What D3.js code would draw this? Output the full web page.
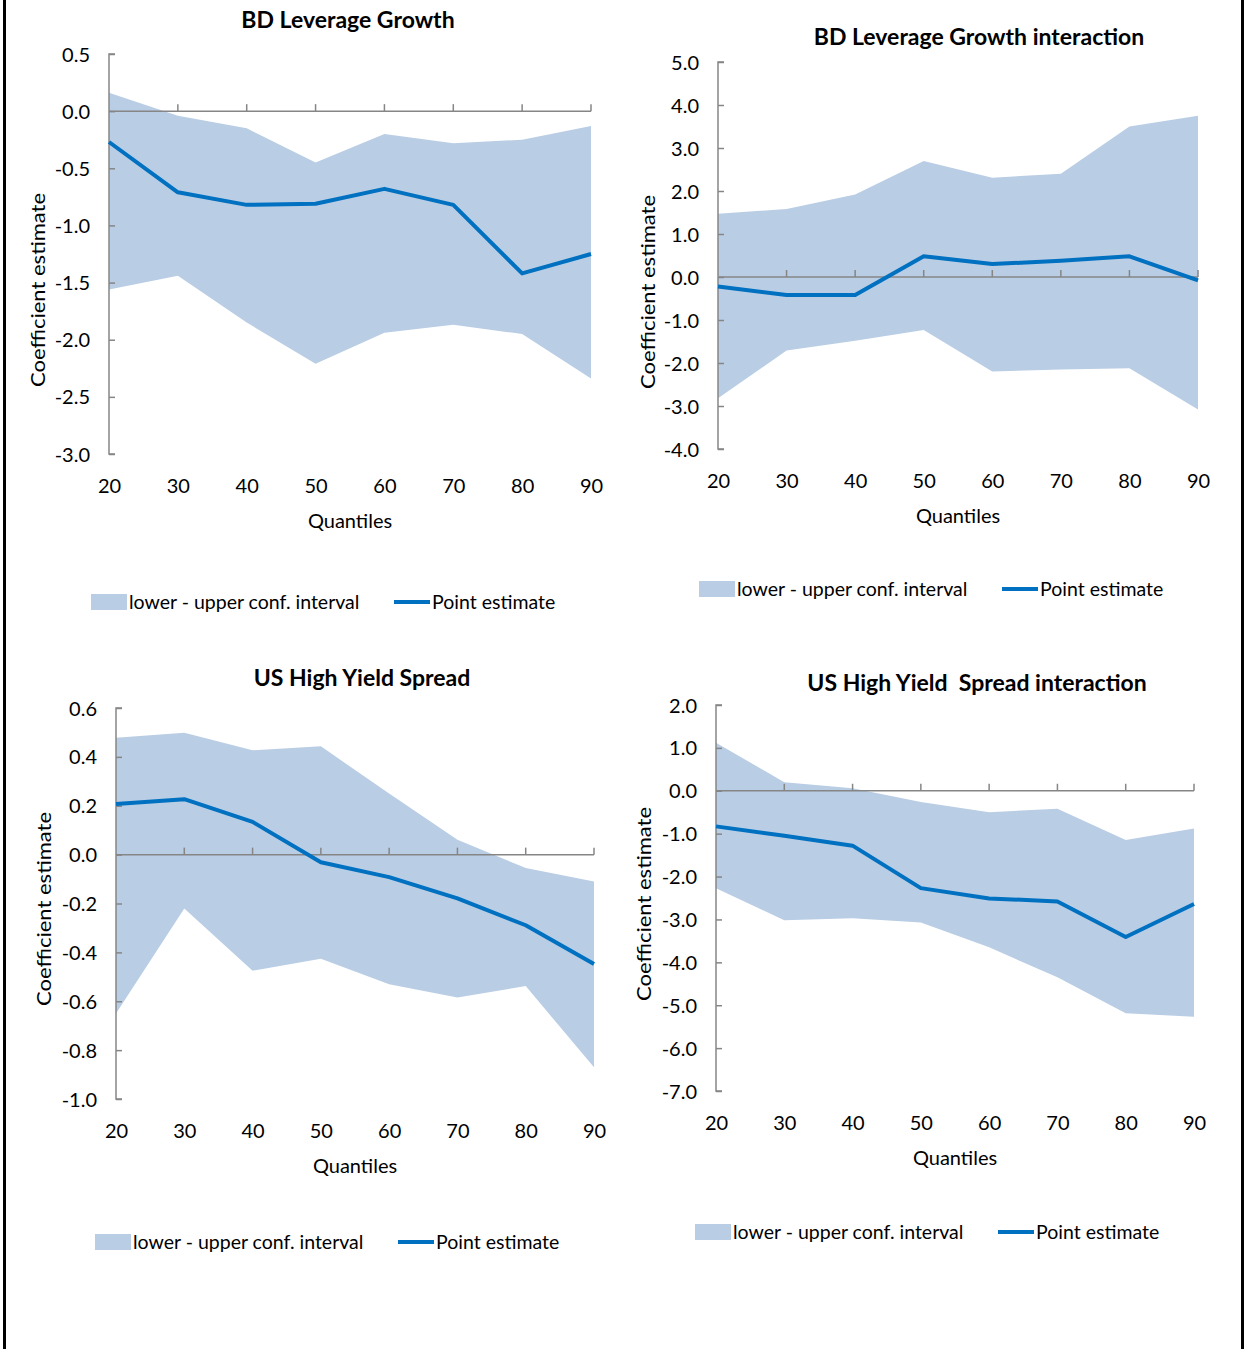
<!DOCTYPE html>
<html>
<head>
<meta charset="utf-8">
<script src="https://cdn.jsdelivr.net/npm/d3@7"></script>
<style>
  html, body { margin: 0; padding: 0; background: #fff; }
  svg { display: block; }
  text { font-family: Lato, "Open Sans", "Noto Sans", sans-serif; fill: #000; white-space: pre; }
</style>
</head>
<body>
<svg id="chart" width="1246" height="1349"></svg>
<script>
// ---------------- DATA ----------------
const quantiles = [20, 30, 40, 50, 60, 70, 80, 90];

const titles = [
  "BD Leverage Growth",
  "BD Leverage Growth interaction",
  "US High Yield Spread",
  "US High Yield  Spread interaction"
];

// Panel 1: BD Leverage Growth
const bdLower = [-1.56, -1.44, -1.85, -2.21, -1.94, -1.87, -1.95, -2.34];
const bdUpper = [0.16, -0.04, -0.15, -0.45, -0.20, -0.28, -0.25, -0.13];
const bdPoint = [-0.27, -0.71, -0.82, -0.81, -0.68, -0.82, -1.42, -1.25];

// Panel 2: BD Leverage Growth interaction
const bdiLower = [-2.82, -1.71, -1.48, -1.23, -2.20, -2.15, -2.12, -3.08];
const bdiUpper = [1.47, 1.58, 1.92, 2.70, 2.31, 2.40, 3.50, 3.75];
const bdiPoint = [-0.22, -0.42, -0.42, 0.48, 0.30, 0.38, 0.48, -0.08];

// Panel 3: US High Yield Spread
const hyLower = [-0.65, -0.22, -0.475, -0.426, -0.53, -0.585, -0.538, -0.87];
const hyUpper = [0.478, 0.499, 0.427, 0.443, 0.25, 0.061, -0.055, -0.11];
const hyPoint = [0.207, 0.227, 0.134, -0.031, -0.092, -0.179, -0.289, -0.448];

// Panel 4: US High Yield Spread interaction
const hyiLower = [-2.27, -3.02, -2.97, -3.07, -3.65, -4.35, -5.19, -5.27];
const hyiUpper = [1.12, 0.20, 0.06, -0.26, -0.50, -0.42, -1.15, -0.88];
const hyiPoint = [-0.83, -1.05, -1.28, -2.27, -2.51, -2.58, -3.41, -2.64];

// Y tick values per panel
const yTicks1 = [0.5, 0.0, -0.5, -1.0, -1.5, -2.0, -2.5, -3.0];
const yTicks2 = [5, 4, 3, 2, 1, 0, -1, -2, -3, -4];
const yTicks3 = [0.6, 0.4, 0.2, 0.0, -0.2, -0.4, -0.6, -0.8, -1.0];
const yTicks4 = [2, 1, 0, -1, -2, -3, -4, -5, -6, -7];

const xTitle = "Quantiles";
const yTitle = "Coefficient estimate";
const legendBand = "lower - upper conf. interval";
const legendLine = "Point estimate";

// ---------------- LAYOUT ----------------
const BAND = "#B9CDE5";
const LINE = "#0070C0";
const AXIS = "#868686";
const FS = 20;
const LFS = 19.5;

const panels = [
  { title: titles[0], lower: bdLower, upper: bdUpper, point: bdPoint, ticks: yTicks1,
    x0: 109, x1: 591, yTop: 54, yBot: 454, titleX: 348, titleY: 20,
    yTitleX: 38, yTitleY: 290, legY: 602, legX: 91, legLineX: 394 },
  { title: titles[1], lower: bdiLower, upper: bdiUpper, point: bdiPoint, ticks: yTicks2,
    x0: 718, x1: 1198, yTop: 62, yBot: 449, titleX: 979, titleY: 37,
    yTitleX: 648, yTitleY: 292, legY: 589, legX: 699, legLineX: 1002 },
  { title: titles[2], lower: hyLower, upper: hyUpper, point: hyPoint, ticks: yTicks3,
    x0: 116, x1: 594, yTop: 708, yBot: 1099, titleX: 362, titleY: 678,
    yTitleX: 44, yTitleY: 909, legY: 1242, legX: 95, legLineX: 398 },
  { title: titles[3], lower: hyiLower, upper: hyiUpper, point: hyiPoint, ticks: yTicks4,
    x0: 716, x1: 1194, yTop: 705, yBot: 1091, titleX: 977, titleY: 683,
    yTitleX: 644, yTitleY: 904, legY: 1232, legX: 695, legLineX: 998 }
];

const svg = d3.select("#chart");

// page border (left and right lines)
svg.append("line").attr("x1", 4.5).attr("x2", 4.5).attr("y1", 0).attr("y2", 1349)
  .attr("stroke", "#000").attr("stroke-width", 3);
svg.append("line").attr("x1", 1242.5).attr("x2", 1242.5).attr("y1", 0).attr("y2", 1349)
  .attr("stroke", "#000").attr("stroke-width", 3);

const fmt = v => d3.format(".1f")(v).replace("\u2212", "-");

panels.forEach(p => {
  const g = svg.append("g");
  const x = d3.scalePoint().domain(quantiles).range([p.x0, p.x1]);
  const y = d3.scaleLinear().domain(d3.extent(p.ticks)).range([p.yBot, p.yTop]);

  const rows = quantiles.map((q, i) => ({ q, lo: p.lower[i], hi: p.upper[i], pt: p.point[i] }));

  // band
  g.append("path").datum(rows)
    .attr("fill", BAND)
    .attr("d", d3.area().x(d => x(d.q)).y0(d => y(d.lo)).y1(d => y(d.hi)));

  // zero line with upward ticks
  g.append("line").attr("x1", p.x0).attr("x2", p.x1).attr("y1", y(0)).attr("y2", y(0))
    .attr("stroke", AXIS).attr("stroke-width", 1.5);
  g.selectAll(".xt").data(quantiles.slice(1)).join("line")
    .attr("x1", d => x(d)).attr("x2", d => x(d))
    .attr("y1", y(0)).attr("y2", y(0) - 7)
    .attr("stroke", AXIS).attr("stroke-width", 1.5);

  // y axis
  const yAxis = d3.axisRight(y).tickValues(p.ticks).tickSize(6).tickFormat(fmt);
  const ya = g.append("g").attr("transform", `translate(${p.x0},0)`).call(yAxis);
  ya.select(".domain").attr("stroke", AXIS).attr("stroke-width", 1.5)
    .attr("d", `M6,${p.yTop}H0V${p.yBot}H6`);
  ya.selectAll(".tick line").attr("stroke", AXIS).attr("stroke-width", 1.5);
  ya.selectAll(".tick text")
    .attr("x", -19).attr("text-anchor", "end").attr("dy", "0.35em")
    .attr("font-size", FS).attr("fill", "#000");

  // x tick labels at bottom
  const xAxis = d3.axisBottom(x).tickSize(0).tickPadding(0);
  const xa = g.append("g").attr("transform", `translate(0,${p.yBot + 32})`).call(xAxis);
  xa.select(".domain").remove();
  xa.selectAll(".tick text").attr("y", 0).attr("dy", "0.35em")
    .attr("font-size", FS).attr("fill", "#000");

  // point estimate line
  g.append("path").datum(rows)
    .attr("fill", "none").attr("stroke", LINE).attr("stroke-width", 4)
    .attr("stroke-linejoin", "round")
    .attr("d", d3.line().x(d => x(d.q)).y(d => y(d.pt)));

  // titles
  g.append("text").attr("x", p.titleX).attr("y", p.titleY).attr("dy", "0.35em")
    .attr("text-anchor", "middle").attr("font-size", 23).attr("font-weight", "bold")
    .text(p.title);
  g.append("text").attr("x", (p.x0 + p.x1) / 2).attr("y", p.yBot + 67).attr("dy", "0.35em")
    .attr("text-anchor", "middle").attr("font-size", FS).text(xTitle);
  g.append("text").attr("class", "ytitle")
    .attr("transform", `translate(${p.yTitleX},${p.yTitleY}) rotate(-90)`)
    .attr("dy", "0.35em").attr("text-anchor", "middle").attr("font-size", FS).text(yTitle);

  // legend
  g.append("rect").attr("x", p.legX).attr("y", p.legY - 8).attr("width", 36).attr("height", 16)
    .attr("fill", BAND);
  g.append("text").attr("x", p.legX + 38).attr("y", p.legY).attr("dy", "0.35em")
    .attr("font-size", LFS).text(legendBand);
  g.append("line").attr("x1", p.legLineX).attr("x2", p.legLineX + 36)
    .attr("y1", p.legY).attr("y2", p.legY)
    .attr("stroke", LINE).attr("stroke-width", 4);
  g.append("text").attr("x", p.legLineX + 38).attr("y", p.legY).attr("dy", "0.35em")
    .attr("font-size", LFS).text(legendLine);
});

// widen the axis title slightly to mimic the original face's letter spacing
svg.selectAll("text.ytitle").each(function () {
  const w = this.getComputedTextLength();
  this.setAttribute("textLength", (w * 1.1).toFixed(1));
  this.setAttribute("lengthAdjust", "spacingAndGlyphs");
});
</script>
</body>
</html>
